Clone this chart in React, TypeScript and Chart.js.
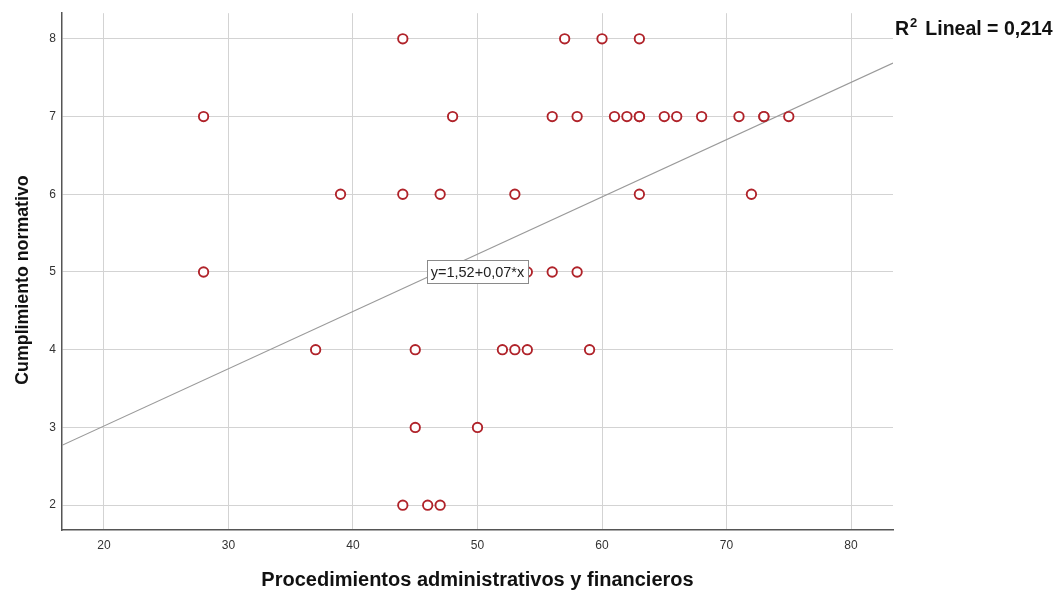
import React, { useEffect, useRef } from "react";
import { Chart, registerables } from "chart.js";

Chart.register(...registerables);

// Data
const xValues: number[] = [
  44, 57, 60, 63,
  28, 48, 56, 58, 61, 62, 63, 63, 65, 66, 68, 71, 73, 73, 75,
  39, 44, 47, 53, 63, 72,
  28, 54, 56, 58,
  37, 45, 52, 53, 54, 59,
  45, 50,
  44, 46, 47,
];
const yValues: number[] = [
  8, 8, 8, 8,
  7, 7, 7, 7, 7, 7, 7, 7, 7, 7, 7, 7, 7, 7, 7,
  6, 6, 6, 6, 6, 6,
  5, 5, 5, 5,
  4, 4, 4, 4, 4, 4,
  3, 3,
  2, 2, 2,
];
const xTicks: number[] = [20, 30, 40, 50, 60, 70, 80];
const yTicks: number[] = [2, 3, 4, 5, 6, 7, 8];
const xRange: number[] = [16.63, 83.37];
const yRange: number[] = [1.68, 8.33];
const fitIntercept = 1.544;
const fitSlope = 0.0737;
const equationText = "y=1,52+0,07*x";
const equationAt: number[] = [50, 5];
const r2Text = "Lineal = 0,214";
const xTitle = "Procedimientos administrativos y financieros";
const yTitle = "Cumplimiento normativo";

const FONT = "'Liberation Sans', Arial, sans-serif";

export default function App() {
  const ref = useRef<HTMLCanvasElement | null>(null);

  useEffect(() => {
    document.body.style.margin = "0";
    const canvas = ref.current;
    if (!canvas) return;

    const points = xValues.map((x, i) => ({ x, y: yValues[i] }));
    const linePts = xRange.map((x) => ({ x, y: fitIntercept + fitSlope * x }));

    const annotate = {
      id: "annotate",
      afterDatasetsDraw(chart: any) {
        const { ctx, scales, chartArea } = chart;
        const xs = scales.x;
        const ys = scales.y;
        ctx.save();
        // equation box
        ctx.font = `14.5px ${FONT}`;
        const tw = ctx.measureText(equationText).width;
        const cx = xs.getPixelForValue(equationAt[0]);
        const cy = ys.getPixelForValue(equationAt[1]);
        const bw = Math.round(tw + 7);
        const bh = 23;
        const bx = Math.round(cx - bw / 2) + 0.5;
        const by = Math.round(cy - bh / 2) + 0.5;
        ctx.fillStyle = "#ffffff";
        ctx.strokeStyle = "#8a8a8a";
        ctx.lineWidth = 1;
        ctx.fillRect(bx, by, bw, bh);
        ctx.strokeRect(bx, by, bw, bh);
        ctx.fillStyle = "#222222";
        ctx.textAlign = "center";
        ctx.textBaseline = "middle";
        ctx.fillText(equationText, cx, cy + 1);

        // axis titles
        ctx.fillStyle = "#111111";
        ctx.font = `bold 20px ${FONT}`;
        ctx.textAlign = "center";
        ctx.textBaseline = "middle";
        ctx.fillText(xTitle, (chartArea.left + chartArea.right) / 2, 580);
        ctx.save();
        ctx.font = `bold 17.8px ${FONT}`;
        ctx.translate(23, 280);
        ctx.rotate(-Math.PI / 2);
        ctx.fillText(yTitle, 0, 0);
        ctx.restore();

        // R2 label
        ctx.textAlign = "left";
        ctx.textBaseline = "alphabetic";
        ctx.font = `bold 19.5px ${FONT}`;
        let px = 895;
        ctx.fillText("R", px, 35);
        px += ctx.measureText("R").width + 1;
        ctx.font = `bold 13px ${FONT}`;
        ctx.fillText("2", px, 27);
        px += ctx.measureText("2").width + 8;
        ctx.font = `bold 19.5px ${FONT}`;
        ctx.fillText(r2Text, px, 35);
        ctx.restore();
      },
    };

    const chart = new Chart(canvas, {
      type: "scatter",
      data: {
        datasets: [
          {
            type: "line",
            data: linePts,
            borderColor: "#9a9a9a",
            borderWidth: 1.2,
            pointRadius: 0,
            fill: false,
            order: 2,
          } as any,
          {
            data: points,
            pointRadius: 4.7,
            pointBorderWidth: 1.9,
            pointBorderColor: "#b0232a",
            pointBackgroundColor: "#ffffff",
            order: 1,
          },
        ],
      },
      options: {
        animation: false,
        responsive: false,
        maintainAspectRatio: false,
        layout: { padding: { top: 9, right: 166, left: 0, bottom: 0 } },
        plugins: { legend: { display: false }, tooltip: { enabled: false } },
        scales: {
          x: {
            type: "linear",
            min: xRange[0],
            max: xRange[1],
            afterBuildTicks: (s: any) => {
              s.ticks = xTicks.map((v) => ({ value: v }));
            },
            afterFit: (s: any) => {
              s.height = 60;
            },
            ticks: {
              font: { family: FONT, size: 12 },
              color: "#333333",
              padding: 8,
              maxRotation: 0,
              autoSkip: false,
            },
            grid: { color: "#d3d3d3", lineWidth: 1, drawTicks: false },
            border: { color: "#555555", width: 1.5 },
          },
          y: {
            type: "linear",
            min: yRange[0],
            max: yRange[1],
            afterBuildTicks: (s: any) => {
              s.ticks = yTicks.map((v) => ({ value: v }));
            },
            afterFit: (s: any) => {
              s.width = 62;
            },
            ticks: {
              font: { family: FONT, size: 12 },
              color: "#333333",
              padding: 6,
              autoSkip: false,
            },
            grid: { color: "#d3d3d3", lineWidth: 1, drawTicks: false },
            border: { color: "#555555", width: 1.5 },
          },
        },
      },
      plugins: [annotate],
    });

    return () => chart.destroy();
  }, []);

  return (
    <div style={{ width: 1059, height: 590, background: "#fff" }}>
      <canvas ref={ref} width={1059} height={590} style={{ width: 1059, height: 590, display: "block" }} />
    </div>
  );
}
